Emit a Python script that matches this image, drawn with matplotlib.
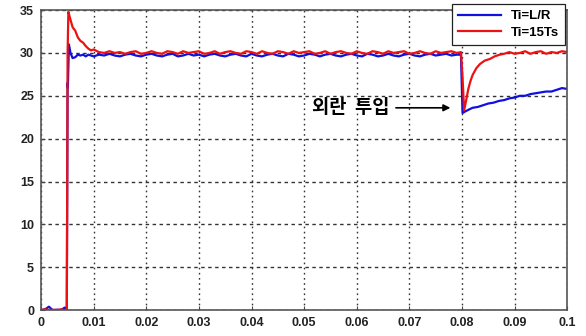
import numpy as np
import matplotlib.pyplot as plt

plt.rcParams['font.family'] = ['Liberation Sans', 'Noto Sans CJK KR', 'DejaVu Sans']

# Ti=15Ts (red)
t_red = [0, 0.0008, 0.0015, 0.0022, 0.003, 0.0038, 0.0045, 0.0049, 0.00505, 0.0052, 0.0055,
         0.006, 0.0065, 0.007, 0.0075, 0.008, 0.0085, 0.009, 0.0095, 0.010,
         0.011, 0.012, 0.013, 0.014, 0.015, 0.016, 0.017, 0.018, 0.019, 0.020,
         0.021, 0.022, 0.023, 0.024, 0.025, 0.026, 0.027, 0.028, 0.029, 0.030,
         0.031, 0.032, 0.033, 0.034, 0.035, 0.036, 0.037, 0.038, 0.039, 0.040,
         0.041, 0.042, 0.043, 0.044, 0.045, 0.046, 0.047, 0.048, 0.049, 0.050,
         0.051, 0.052, 0.053, 0.054, 0.055, 0.056, 0.057, 0.058, 0.059, 0.060,
         0.061, 0.062, 0.063, 0.064, 0.065, 0.066, 0.067, 0.068, 0.069, 0.070,
         0.071, 0.072, 0.073, 0.074, 0.075, 0.076, 0.077, 0.078, 0.079, 0.0798,
         0.0801, 0.0804, 0.0808, 0.0812, 0.0816, 0.082, 0.0827, 0.0834, 0.0843, 0.0853,
         0.0862, 0.0872, 0.088, 0.089, 0.090, 0.091, 0.092, 0.093, 0.094, 0.095,
         0.096, 0.097, 0.098, 0.099, 0.100]
v_red = [0.0, 0.1, 0.0, 0.05, 0.0, 0.1, 0.0, 0.0, 30.0, 34.8, 34.1,
         33.0, 32.6, 31.8, 31.4, 31.2, 30.8, 30.5, 30.3, 30.4,
         30.1, 30.0, 30.2, 30.0, 30.1, 29.9, 30.1, 30.2, 29.9, 30.0,
         30.2, 30.0, 29.9, 30.2, 30.1, 29.9, 30.2, 30.0, 30.1, 30.2,
         29.9, 30.0, 30.2, 29.9, 30.1, 30.2, 30.0, 29.9, 30.2, 30.1,
         29.9, 30.2, 30.0, 29.9, 30.2, 30.1, 29.9, 30.2, 30.0, 30.1,
         30.2, 29.9, 30.0, 30.2, 29.9, 30.1, 30.2, 30.0, 29.9, 30.2,
         30.0, 29.9, 30.2, 30.1, 29.9, 30.2, 30.0, 30.1, 30.2, 29.9,
         30.0, 30.2, 30.0, 29.9, 30.2, 30.0, 30.1, 30.2, 30.0, 30.1,
         27.2, 23.3, 24.5, 25.8, 26.7, 27.4, 28.2, 28.7, 29.1, 29.3,
         29.6, 29.8, 29.9, 30.1, 29.9, 30.0, 30.2, 29.9, 30.1, 30.2,
         29.9, 30.1, 30.0, 30.2, 30.1]

# Ti=L/R (blue)
t_blue = [0, 0.0008, 0.0015, 0.0022, 0.003, 0.0038, 0.0045, 0.0049, 0.00505, 0.0051, 0.0053,
          0.0056, 0.006, 0.0065, 0.007, 0.0075, 0.008, 0.0085, 0.009, 0.0095, 0.010,
          0.011, 0.012, 0.013, 0.014, 0.015, 0.016, 0.017, 0.018, 0.019, 0.020,
          0.021, 0.022, 0.023, 0.024, 0.025, 0.026, 0.027, 0.028, 0.029, 0.030,
          0.031, 0.032, 0.033, 0.034, 0.035, 0.036, 0.037, 0.038, 0.039, 0.040,
          0.041, 0.042, 0.043, 0.044, 0.045, 0.046, 0.047, 0.048, 0.049, 0.050,
          0.051, 0.052, 0.053, 0.054, 0.055, 0.056, 0.057, 0.058, 0.059, 0.060,
          0.061, 0.062, 0.063, 0.064, 0.065, 0.066, 0.067, 0.068, 0.069, 0.070,
          0.071, 0.072, 0.073, 0.074, 0.075, 0.076, 0.077, 0.078, 0.079, 0.0798,
          0.0801, 0.081, 0.082, 0.083, 0.084, 0.085, 0.086, 0.087, 0.088, 0.089,
          0.090, 0.091, 0.092, 0.093, 0.094, 0.095, 0.096, 0.097, 0.098, 0.099, 0.100]
v_blue = [0.0, 0.1, 0.4, 0.0, 0.05, 0.0, 0.3, 0.0, 26.5, 26.0, 31.0,
          30.0, 29.4, 29.5, 29.8, 29.7, 29.8, 29.6, 29.8, 29.7, 29.6,
          29.8, 29.7, 29.9, 29.7, 29.6, 29.8, 29.9, 29.7, 29.6, 29.8,
          29.9, 29.7, 29.6, 29.8, 29.9, 29.6, 29.7, 29.9, 29.7, 29.8,
          29.6, 29.8, 29.9, 29.7, 29.6, 29.8, 29.9, 29.7, 29.6, 29.9,
          29.7, 29.6, 29.8, 29.9, 29.7, 29.6, 29.9, 29.8, 29.6, 29.7,
          29.9, 29.8, 29.6, 29.8, 29.9, 29.7, 29.6, 29.8, 29.9, 29.7,
          29.6, 29.9, 29.8, 29.6, 29.7, 29.9, 29.7, 29.6, 29.8, 29.9,
          29.7, 29.6, 29.8, 29.9, 29.7, 29.8, 29.9, 29.7, 29.8, 29.8,
          23.0, 23.3, 23.6, 23.7, 23.9, 24.1, 24.2, 24.4, 24.5, 24.7,
          24.8, 25.0, 25.0, 25.2, 25.3, 25.4, 25.5, 25.5, 25.7, 25.9, 25.8]

x_ticks = [0, 0.01, 0.02, 0.03, 0.04, 0.05, 0.06, 0.07, 0.08, 0.09, 0.1]
x_labels = ['0', '0.01', '0.02', '0.03', '0.04', '0.05', '0.06', '0.07', '0.08', '0.09', '0.1']
y_ticks = [0, 5, 10, 15, 20, 25, 30, 35]

fig = plt.figure(figsize=(5.86, 3.36), dpi=100)
ax = fig.add_axes([0.070, 0.077, 0.898, 0.893])

ax.plot(t_blue, v_blue, color='#1010e0', lw=1.6, label='Ti=L/R')
ax.plot(t_red, v_red, color='#ee1111', lw=1.6, label='Ti=15Ts')

ax.set_xlim(0, 0.1)
ax.set_ylim(0, 35)
ax.set_xticks(x_ticks)
ax.set_xticklabels(x_labels)
ax.set_yticks(y_ticks)
for lab in ax.get_xticklabels() + ax.get_yticklabels():
    lab.set_fontweight('bold')
    lab.set_fontsize(9)
    lab.set_color('#222222')
ax.tick_params(direction='in', length=3, color='#444444', pad=5)

ax.xaxis.grid(True, linestyle=(0, (1.2, 2.5)), color='#333333', lw=1.0)
ax.yaxis.grid(True, linestyle=(0, (2.5, 2.5)), color='#333333', lw=1.0)
for s in ax.spines.values():
    s.set_color('#555555')
    s.set_linewidth(1.2)

ax.annotate('외란  투입', xy=(0.0778, 23.6), xytext=(0.0514, 23.6),
            fontsize=13.5, fontweight='bold', va='center', ha='left',
            family=['Noto Sans CJK KR', 'DejaVu Sans'],
            arrowprops=dict(arrowstyle='-|>', color='black', lw=1.2,
                            shrinkA=3, shrinkB=0, mutation_scale=10))

leg = ax.legend(loc='upper right', bbox_to_anchor=(0.996, 1.02), fontsize=9.5,
                fancybox=False, framealpha=1, edgecolor='#222222', borderaxespad=0,
                handlelength=3.2, handletextpad=0.8, borderpad=0.45, labelspacing=0.35)
leg.get_frame().set_linewidth(0.9)
for txt in leg.get_texts():
    txt.set_fontweight('bold')

fig.savefig('out.png', dpi=100)
